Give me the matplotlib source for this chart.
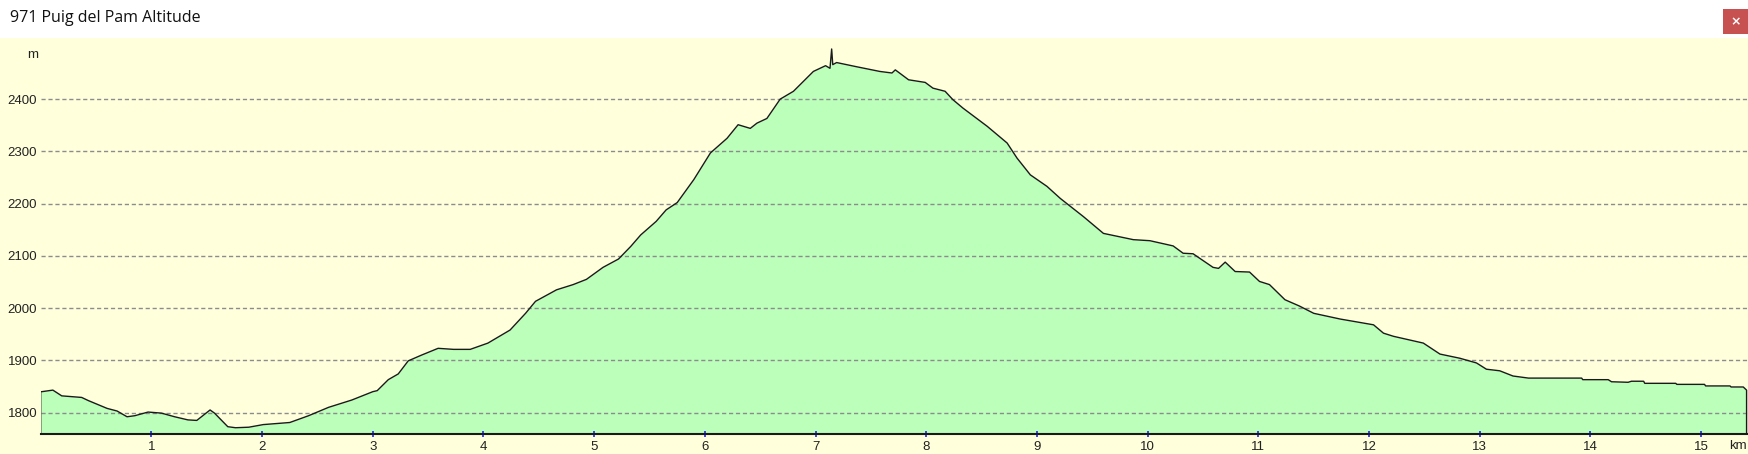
import matplotlib.pyplot as plt
from matplotlib.patches import Rectangle

# Elevation profile (distance in km, altitude in m)
dist_km = [0.0, 0.01, 0.11, 0.19, 0.37, 0.43, 0.60, 0.69, 0.78, 0.85,
           0.97, 1.09, 1.21, 1.33, 1.41, 1.53, 1.57, 1.69, 1.76, 1.88,
           2.01, 2.25, 2.42, 2.60, 2.81, 3.00, 3.04, 3.14, 3.23, 3.32,
           3.44, 3.59, 3.73, 3.88, 4.04, 4.24, 4.38, 4.47, 4.66, 4.81,
           4.93, 5.08, 5.22, 5.33, 5.42, 5.56, 5.65, 5.75, 5.90, 6.05,
           6.20, 6.30, 6.41, 6.47, 6.56, 6.68, 6.80, 6.98, 7.09, 7.13,
           7.145, 7.155, 7.19, 7.37, 7.58, 7.69, 7.72, 7.84, 7.99, 8.06,
           8.17, 8.24, 8.33, 8.55, 8.73, 8.82, 8.94, 9.09, 9.21, 9.42,
           9.60, 9.87, 10.02, 10.23, 10.32, 10.41, 10.59, 10.64, 10.70, 10.79,
           10.92, 11.01, 11.10, 11.24, 11.37, 11.50, 11.74, 12.04, 12.13, 12.22,
           12.49, 12.64, 12.82, 12.97, 13.06, 13.18, 13.30, 13.44, 13.92, 13.93,
           14.16, 14.19, 14.34, 14.37, 14.48, 14.49, 14.77, 14.78, 15.03, 15.04,
           15.26, 15.27, 15.38, 15.41]
alt_m = [1840, 1840, 1843, 1832, 1829, 1823, 1808, 1803, 1792, 1794,
         1801, 1799, 1792, 1786, 1785, 1805, 1799, 1773, 1771, 1772,
         1777, 1781, 1794, 1810, 1824, 1840, 1842, 1863, 1874, 1899,
         1910, 1923, 1921, 1921, 1933, 1958, 1990, 2013, 2035, 2045,
         2055, 2078, 2094, 2118, 2140, 2166, 2188, 2202, 2246, 2297,
         2325, 2351, 2344, 2354, 2363, 2400, 2415, 2453, 2464, 2459,
         2496, 2466, 2470, 2462, 2453, 2450, 2456, 2437, 2432, 2421,
         2415, 2399, 2383, 2348, 2316, 2287, 2255, 2233, 2210, 2175,
         2143, 2131, 2129, 2119, 2105, 2104, 2078, 2076, 2088, 2070,
         2069, 2051, 2045, 2016, 2004, 1990, 1979, 1968, 1952, 1946,
         1933, 1912, 1904, 1895, 1883, 1880, 1870, 1866, 1866, 1863,
         1863, 1859, 1858, 1860, 1860, 1856, 1856, 1854, 1854, 1851,
         1851, 1849, 1849, 1843]

y_ticks = [1800, 1900, 2000, 2100, 2200, 2300, 2400]
x_ticks = list(range(1, 16))
title = '971 Puig del Pam Altitude'

W, H = 1749, 454
yellow = '#ffffdc'
green = '#bbffbb'


def fx(px):
    return px / W


def fy(py):
    return 1 - py / H


fig = plt.figure(figsize=(W / 100, H / 100), dpi=100)
fig.patch.set_facecolor(yellow)

# title bar
fig.add_artist(Rectangle((0, fy(37.5)), 1, 37.5 / H, transform=fig.transFigure,
                         facecolor='white', edgecolor='none', zorder=0))
fig.text(fx(10), fy(18), title, fontsize=11.5, family='Open Sans',
         va='center', ha='left', color='#111111')
fig.add_artist(Rectangle((fx(1723), fy(34)), 25 / W, 25 / H, transform=fig.transFigure,
                         facecolor='#c75050', edgecolor='none', zorder=1))
fig.text(fx(1735.5), fy(21.5), '×', fontsize=9, fontweight='bold', color='white',
         ha='center', va='center', zorder=2)

ax = fig.add_axes([fx(40.7), fy(434), fx(W) - fx(40.7), fy(38) - fy(434)])
ax.set_facecolor(yellow)
ymin, ymax = 1759, 2517
ax.set_xlim(0, (W - 40.7) / 110.7)
ax.set_ylim(ymin, ymax)

ax.fill_between(dist_km, alt_m, ymin, color=green, linewidth=0, zorder=1)
xs = [dist_km[0]] + dist_km + [dist_km[-1]]
ys = [ymin] + alt_m + [ymin]
ax.plot(xs, ys, color='#1a1a1a', linewidth=1.0, zorder=3)

for v in y_ticks:
    ax.axhline(v, color='#8c8c8c', linewidth=1.0, linestyle=(0, (3, 2)), zorder=2)

for s in ['top', 'right', 'left']:
    ax.spines[s].set_visible(False)
ax.spines['bottom'].set_linewidth(1.5)
ax.spines['bottom'].set_color('#1a1a1a')
ax.spines['bottom'].set_zorder(4)

ax.set_yticks(y_ticks)
ax.set_yticklabels([str(v) for v in y_ticks], family='Liberation Sans', fontsize=9.5,
                   color='#222222')
ax.tick_params(axis='y', length=0, pad=2.5)
ax.set_xticks(x_ticks)
ax.set_xticklabels([str(v) for v in x_ticks], family='Liberation Sans', fontsize=9.5,
                   color='#222222')
ax.tick_params(axis='x', direction='inout', length=4, width=1.2, color='#2020ff', pad=3)

fig.text(fx(33), fy(55), 'm', family='Liberation Sans', fontsize=9.5, ha='center',
         va='center', color='#222222')
fig.text(fx(1738), fy(446), 'km', family='Liberation Sans', fontsize=9.5, ha='center',
         va='center', color='#222222')

fig.savefig('out.png', dpi=100, facecolor=fig.get_facecolor())
